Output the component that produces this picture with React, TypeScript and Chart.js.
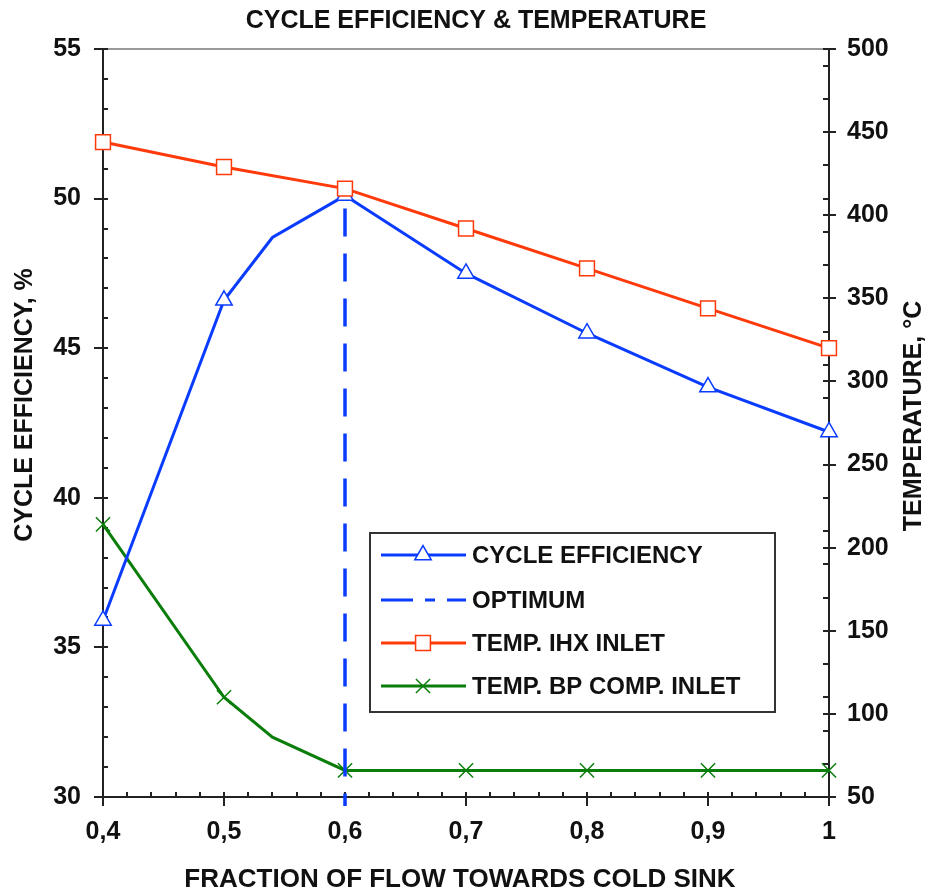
import React, { useEffect, useRef } from "react";
import { Chart, registerables } from "chart.js";
import * as helpers from "chart.js/helpers";

Chart.register(...registerables);

// ---------- data ----------
const chartTitle = "CYCLE EFFICIENCY & TEMPERATURE";
const xTitle = "FRACTION OF FLOW TOWARDS COLD SINK";
const yLeftTitle = "CYCLE EFFICIENCY, %";
const yRightTitle = "TEMPERATURE, °C";

const markerFractions = [0.4, 0.5, 0.6, 0.7, 0.8, 0.9, 1.0];

const efficiencyX = [0.4, 0.5, 0.54, 0.6, 0.7, 0.8, 0.9, 1.0];
const efficiency = [35.9, 46.6, 48.7, 50.1, 47.5, 45.5, 43.7, 42.2];

const ihxX = [0.4, 0.5, 0.6, 0.7, 0.8, 0.9, 1.0];
const ihxInlet = [444, 429, 416, 392, 368, 344, 320];

const bpX = [0.4, 0.5, 0.54, 0.6, 0.7, 0.8, 0.9, 1.0];
const bpCompInlet = [214, 110, 86, 66, 66, 66, 66, 66];

const optimumX = [0.6, 0.6];
const optimumY = [50.1, 29.7];

const labels = ["CYCLE EFFICIENCY", "OPTIMUM", "TEMP. IHX INLET", "TEMP. BP COMP. INLET"];

const BLUE = "#0a3cff";
const RED = "#ff3a0a";
const GREEN = "#0a7d0a";
const FONT = '"Liberation Sans", Arial, sans-serif';

const toPoints = (xs: number[], ys: number[]) => xs.map((x, i) => ({ x, y: ys[i] }));
const isMarker = (x: number) => markerFractions.some((m) => Math.abs(m - x) < 1e-6);

// ---------- plugins ----------
const axesPlugin = {
  id: "axesFrame",
  beforeDatasetsDraw(chart: any) {
    const { ctx, chartArea } = chart;
    const { left, right, top, bottom } = chartArea;
    const xs = chart.scales.x;
    const yl = chart.scales.y;
    const yr = chart.scales.y1;
    ctx.save();
    ctx.strokeStyle = "#9a9a9a";
    ctx.lineWidth = 2;
    ctx.beginPath();
    ctx.moveTo(left - 9, top);
    ctx.lineTo(right + 7, top);
    ctx.stroke();
    ctx.strokeStyle = "#222";
    ctx.lineWidth = 2;
    ctx.beginPath();
    ctx.moveTo(left, top);
    ctx.lineTo(left, bottom);
    ctx.lineTo(right, bottom);
    ctx.moveTo(right, top);
    ctx.lineTo(right, bottom);
    ctx.stroke();
    ctx.beginPath();
    for (let v = yl.min; v <= yl.max + 1e-9; v += 1) {
      const p = Math.round(yl.getPixelForValue(v));
      const major = Math.abs(v % 5) < 1e-9;
      ctx.moveTo(major ? left - 9 : left, p);
      ctx.lineTo(left + 5, p);
    }
    for (let v = yr.min; v <= yr.max + 1e-9; v += 10) {
      const major = Math.abs(v % 50) < 1e-9;
      const minor = Math.abs((v - 50) % 20) < 1e-9;
      if (!major && !minor) continue;
      const p = Math.round(yr.getPixelForValue(v));
      ctx.moveTo(right - 6, p);
      ctx.lineTo(major ? right + 7 : right, p);
    }
    for (let i = 0; i <= 30; i++) {
      const v = xs.min + i * 0.02;
      const p = Math.round(xs.getPixelForValue(v));
      const major = i % 5 === 0;
      ctx.moveTo(p, bottom - 5);
      ctx.lineTo(p, major ? bottom + 9 : bottom);
    }
    ctx.stroke();
    ctx.restore();
  },
};

const legendPlugin = {
  id: "boxLegend",
  afterDatasetsDraw(chart: any) {
    const { ctx } = chart;
    const bx = 370, by = 533, bw = 405, bh = 179;
    ctx.save();
    ctx.fillStyle = "#fff";
    ctx.fillRect(bx, by, bw, bh);
    ctx.strokeStyle = "#333";
    ctx.lineWidth = 2;
    ctx.strokeRect(bx, by, bw, bh);
    const rows = [555, 600, 643, 686];
    const x0 = 381, x1 = 466, mx = 423;
    chart.data.datasets.forEach((ds: any, i: number) => {
      const y = rows[i];
      ctx.save();
      ctx.strokeStyle = ds.borderColor;
      ctx.lineWidth = 3;
      if (ds.legendDash) ctx.setLineDash(ds.legendDash);
      ctx.beginPath();
      ctx.moveTo(x0, y);
      ctx.lineTo(x1, y);
      ctx.stroke();
      ctx.restore();
      if (ds.pointStyle && ds.legendMarker) {
        ctx.save();
        ctx.fillStyle = ds.pointBackgroundColor;
        ctx.strokeStyle = ds.pointBorderColor;
        ctx.lineWidth = 1.5;
        helpers.drawPoint(
          ctx,
          { pointStyle: ds.pointStyle, radius: ds.legendMarker, borderWidth: 1.5, rotation: 0 } as any,
          mx,
          y
        );
        ctx.restore();
      }
      ctx.fillStyle = "#111";
      ctx.font = `bold 24px ${FONT}`;
      ctx.textBaseline = "middle";
      ctx.textAlign = "left";
      ctx.fillText(ds.label, 472, y + 1);
    });
    ctx.restore();
  },
};

const titlesPlugin = {
  id: "axisTitles",
  afterDraw(chart: any) {
    const { ctx } = chart;
    ctx.save();
    ctx.fillStyle = "#111";
    ctx.textAlign = "center";
    ctx.textBaseline = "middle";
    ctx.font = `bold 25px ${FONT}`;
    ctx.fillText(chartTitle, 476, 21);
    ctx.font = `bold 26px ${FONT}`;
    ctx.fillText(xTitle, 460, 880);
    ctx.save();
    ctx.translate(25, 405);
    ctx.rotate(-Math.PI / 2);
    ctx.font = `bold 25px ${FONT}`;
    ctx.fillText(yLeftTitle, 0, 0);
    ctx.restore();
    ctx.save();
    ctx.translate(914, 416);
    ctx.rotate(-Math.PI / 2);
    ctx.font = `bold 25px ${FONT}`;
    ctx.fillText(yRightTitle, 0, 0);
    ctx.restore();
    ctx.restore();
  },
};

export default function App() {
  const canvasRef = useRef<HTMLCanvasElement | null>(null);

  useEffect(() => {
    if (!canvasRef.current) return;
    const tickFont = { family: FONT, size: 25, weight: "bold" as const };
    const chart = new Chart(canvasRef.current, {
      type: "line",
      data: {
        datasets: [
          {
            label: labels[0],
            data: toPoints(efficiencyX, efficiency),
            yAxisID: "y",
            borderColor: BLUE,
            borderWidth: 3,
            pointStyle: "triangle",
            pointRadius: (c: any) => (isMarker(c.raw?.x) ? 9.5 : 0),
            pointBackgroundColor: "#fff",
            pointBorderColor: BLUE,
            pointBorderWidth: 1.5,
            order: 2,
            legendMarker: 9.5,
          } as any,
          {
            label: labels[1],
            data: toPoints(optimumX, optimumY),
            yAxisID: "y",
            borderColor: BLUE,
            borderWidth: 3.5,
            borderDash: [28, 17],
            borderDashOffset: 32,
            pointRadius: 0,
            order: 3,
            legendDash: [32, 12, 10, 12],
          } as any,
          {
            label: labels[2],
            data: toPoints(ihxX, ihxInlet),
            yAxisID: "y1",
            borderColor: RED,
            borderWidth: 3,
            pointStyle: "rect",
            pointRadius: 10.5,
            pointBackgroundColor: "#fff",
            pointBorderColor: RED,
            pointBorderWidth: 1.5,
            order: 1,
            legendMarker: 10.5,
          } as any,
          {
            label: labels[3],
            data: toPoints(bpX, bpCompInlet),
            yAxisID: "y1",
            borderColor: GREEN,
            borderWidth: 3,
            pointStyle: "crossRot",
            pointRadius: (c: any) => (isMarker(c.raw?.x) ? 10 : 0),
            pointBackgroundColor: GREEN,
            pointBorderColor: GREEN,
            pointBorderWidth: 1.5,
            order: 4,
            legendMarker: 10,
          } as any,
        ],
      },
      options: {
        animation: false,
        responsive: true,
        maintainAspectRatio: false,
        clip: false as any,
        layout: { padding: { top: 49, left: 0, right: 0, bottom: 0 } },
        plugins: {
          legend: { display: false },
          title: { display: false },
          tooltip: { enabled: false },
        },
        scales: {
          x: {
            type: "linear",
            min: 0.4,
            max: 1,
            grid: { display: false, drawTicks: false },
            border: { display: false },
            ticks: {
              stepSize: 0.1,
              padding: 20,
              color: "#111",
              font: tickFont,
              maxRotation: 0,
              callback: (v: any) => {
                const n = Number(v);
                if (Math.abs(n - 1) < 1e-9) return "1";
                return n.toFixed(1).replace(".", ",");
              },
            },
            afterFit: (s: any) => {
              s.height = 96;
            },
          },
          y: {
            type: "linear",
            position: "left",
            min: 30,
            max: 55,
            grid: { display: false, drawTicks: false },
            border: { display: false },
            ticks: { stepSize: 5, padding: 22, color: "#111", font: tickFont },
            afterFit: (s: any) => {
              s.width = 103;
            },
          },
          y1: {
            type: "linear",
            position: "right",
            min: 50,
            max: 500,
            grid: { display: false, drawTicks: false },
            border: { display: false },
            ticks: { stepSize: 50, padding: 18, color: "#111", font: tickFont },
            afterFit: (s: any) => {
              s.width = 97;
            },
          },
        },
      } as any,
      plugins: [axesPlugin, legendPlugin, titlesPlugin],
    });
    return () => chart.destroy();
  }, []);

  return (
    <div
      style={{
        position: "fixed",
        left: 0,
        top: 0,
        width: 926,
        height: 893,
        background: "#fff",
      }}
    >
      <canvas ref={canvasRef} />
    </div>
  );
}
